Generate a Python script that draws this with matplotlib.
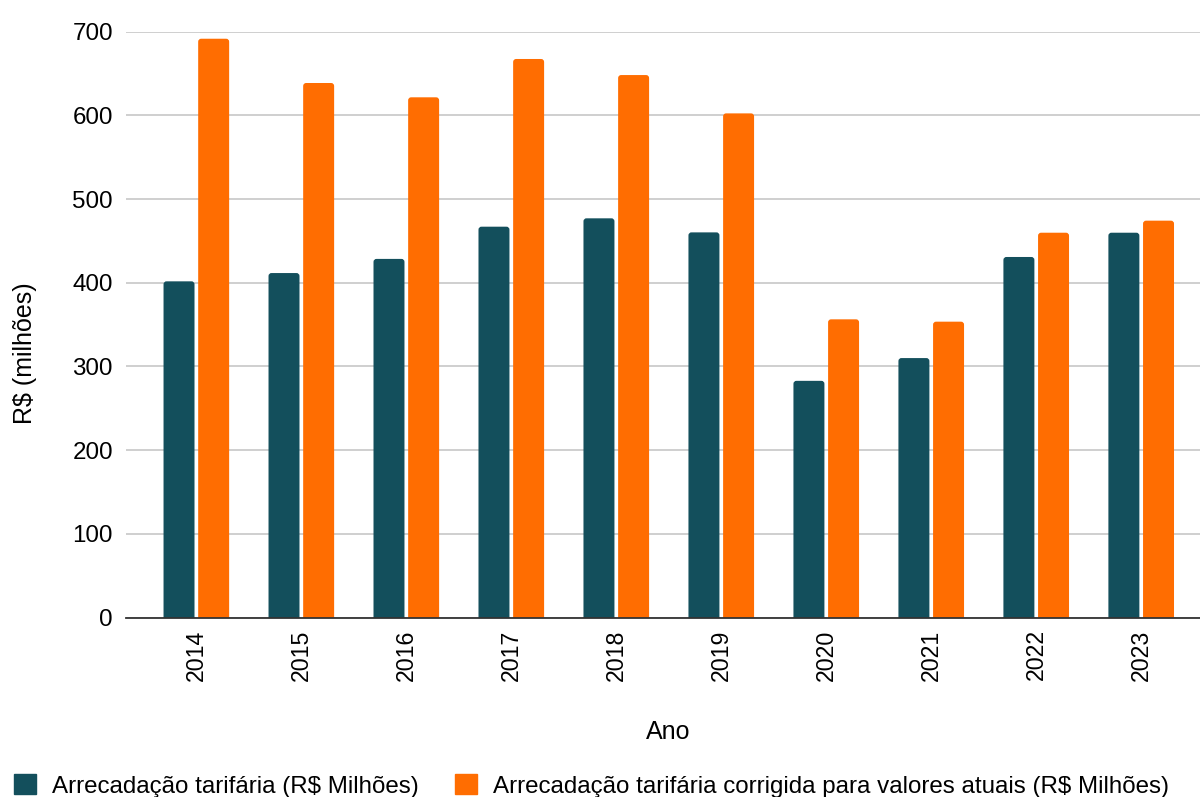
import matplotlib
matplotlib.use("Agg")
import matplotlib.pyplot as plt
import numpy as np
from matplotlib.patches import Patch, FancyBboxPatch

plt.rcParams['font.family'] = ['Liberation Sans', 'DejaVu Sans']

years = ["2014", "2015", "2016", "2017", "2018", "2019", "2020", "2021", "2022", "2023"]
arrecadacao = [401.7, 411.6, 428.5, 467.0, 477.0, 460.2, 282.8, 310.0, 430.8, 459.8]
arrecadacao_corrigida = [691.6, 638.7, 621.6, 667.4, 648.2, 602.4, 356.3, 353.5, 459.8, 474.2]
series_names = ["Arrecadação tarifária (R$ Milhões)",
                "Arrecadação tarifária corrigida para valores atuais (R$ Milhões)"]
yticks = [0, 100, 200, 300, 400, 500, 600, 700]

teal = "#134f5c"
orange = "#ff6d01"

fig = plt.figure(figsize=(12, 7.97), dpi=100)
ax_h = (617.5 - 31.7) / 797
ax = fig.add_axes([0.105, 1 - 617.5 / 797, 0.895, ax_h])

xlim = (-0.67, 9.56)
ylim = (0, 700)
ax.set_xlim(*xlim)
ax.set_ylim(*ylim)

x = np.arange(len(years))
w = 0.295
off = 0.165

# data units per pixel, used to give the bar tops a small rounded corner
x_per_px = (xlim[1] - xlim[0]) / (0.895 * 1200)
y_per_px = (ylim[1] - ylim[0]) / (ax_h * 797)
radius_px = 3.0


def rounded_bars(positions, values, color):
    bars = ax.bar(positions, values, width=w, color=color, zorder=3)
    for rect in bars:
        rect.set_visible(False)
        x0, h, bw = rect.get_x(), rect.get_height(), rect.get_width()
        ext = radius_px * 2 * y_per_px
        patch = FancyBboxPatch(
            (x0, -ext), bw, h + ext,
            boxstyle=f"round,pad=0,rounding_size={radius_px * x_per_px}",
            mutation_aspect=y_per_px / x_per_px,
            facecolor=color, edgecolor='none', zorder=3, clip_on=True)
        ax.add_patch(patch)


rounded_bars(x - off, arrecadacao, teal)
rounded_bars(x + off, arrecadacao_corrigida, orange)

ax.set_yticks(yticks)
ax.set_xticks(x)
ax.set_xticklabels(years, rotation=90, fontsize=16.7)
ax.tick_params(axis='y', labelsize=17.4, length=0, pad=9.5)
ax.tick_params(axis='x', length=0, pad=8.5)
ax.grid(axis='y', color='#cccccc', linewidth=1.3, zorder=0)
ax.set_axisbelow(True)
for s in ['top', 'right', 'left']:
    ax.spines[s].set_visible(False)
ax.spines['bottom'].set_color('#333333')
ax.spines['bottom'].set_linewidth(1.3)
ax.spines['bottom'].set_zorder(4)

fig.text(668 / 1200, 1 - 732 / 797, "Ano", fontsize=18, ha='center', va='center')
fig.text(25 / 1200, 1 - 353 / 797, "R$ (milhões)", fontsize=18, rotation=90,
         ha='center', va='center')

handles = [Patch(color=teal), Patch(color=orange)]
fig.legend(handles, series_names, loc='center left', bbox_to_anchor=(14 / 1200, 1 - 786 / 797),
           ncol=2, frameon=False, fontsize=17.4, handlelength=0.91, handleheight=0.91,
           handletextpad=0.66, columnspacing=1.49, borderaxespad=0, borderpad=0.0)

fig.savefig("out.png", dpi=100)
